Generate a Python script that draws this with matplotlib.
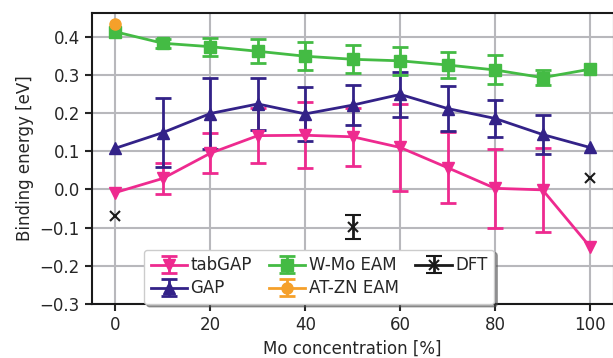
import numpy as np
import matplotlib
matplotlib.use("Agg")
from matplotlib import pyplot as plt

# Mo 농도 [%]
mo_conc = [0, 10, 20, 30, 40, 50, 60, 70, 80, 90, 100]
nan = np.nan

tabgap = [-0.008, 0.029, 0.095, 0.141, 0.142, 0.138, 0.110, 0.057, 0.003, -0.001, -0.150]
tabgap_err = [nan, 0.040, 0.052, 0.072, 0.087, 0.076, 0.113, 0.093, 0.103, 0.110, nan]

gap = [0.108, 0.149, 0.199, 0.224, 0.198, 0.221, 0.249, 0.212, 0.186, 0.144, 0.110]
gap_err = [nan, 0.090, 0.092, 0.067, 0.070, 0.052, 0.059, 0.058, 0.048, 0.050, nan]

wmo_eam = [0.413, 0.383, 0.374, 0.362, 0.349, 0.341, 0.337, 0.326, 0.313, 0.293, 0.315]
wmo_eam_err = [nan, 0.012, 0.024, 0.032, 0.036, 0.037, 0.037, 0.034, 0.038, 0.020, nan]

atzn_eam = [0.433, nan, nan, nan, nan, nan, nan, nan, nan, nan, nan]
atzn_eam_err = [nan] * 11

dft = [-0.069, nan, nan, nan, nan, -0.099, nan, nan, nan, nan, 0.029]
dft_err = [nan, nan, nan, nan, nan, 0.032, nan, nan, nan, nan, nan]

plt.rcParams['font.family'] = ['DejaVu Sans']
plt.rcParams['text.color'] = '#262626'
plt.rcParams['axes.labelcolor'] = '#262626'
plt.rcParams['xtick.color'] = '#262626'
plt.rcParams['ytick.color'] = '#262626'

fig = plt.figure(figsize=(6.13, 3.58), dpi=100)
ax = fig.add_axes([0.1496, 0.1508, 0.8516, 0.8137])

kw = dict(lw=2, elinewidth=2, capsize=6, capthick=2, ms=8)
ax.errorbar(mo_conc, tabgap, yerr=tabgap_err, color='#EE2A8F', marker='v', label='tabGAP', **kw)
ax.errorbar(mo_conc, gap, yerr=gap_err, color='#332288', marker='^', label='GAP', **kw)
ax.errorbar(mo_conc, wmo_eam, yerr=wmo_eam_err, color='#44BB44', marker='s', label='W-Mo EAM', **kw)
ax.errorbar(mo_conc, atzn_eam, yerr=atzn_eam_err, color='#F5A02A', marker='o', label='AT-ZN EAM', **kw)
ax.errorbar(mo_conc, dft, yerr=dft_err, color='#1a1a1a', marker='x', label='DFT',
            lw=2, elinewidth=2, capsize=6, capthick=2, ms=7, mew=1.5)

ax.set_xlim(-5, 105)
ax.set_ylim(-0.3, 0.463)
ax.set_xticks([0, 20, 40, 60, 80, 100])
ax.set_yticks([-0.3, -0.2, -0.1, 0.0, 0.1, 0.2, 0.3, 0.4])
ax.grid(True, color='#b8b8bc', lw=1.5)
ax.set_axisbelow(True)
for s in ax.spines.values():
    s.set_linewidth(1.5)
    s.set_color('#1a1a1a')
ax.tick_params(labelsize=12, width=1.5, length=5)
ax.set_xlabel('Mo concentration [%]', fontsize=12)
ax.set_ylabel('Binding energy [eV]', fontsize=12)

ax.legend(ncol=3, loc='lower left', bbox_to_anchor=(0.1, 0.0), borderaxespad=0,
          shadow=True, fontsize=12, framealpha=1, handlelength=2.2,
          columnspacing=1.0, labelspacing=0.3, handletextpad=0.2)

fig.savefig('out.png', dpi=100)
